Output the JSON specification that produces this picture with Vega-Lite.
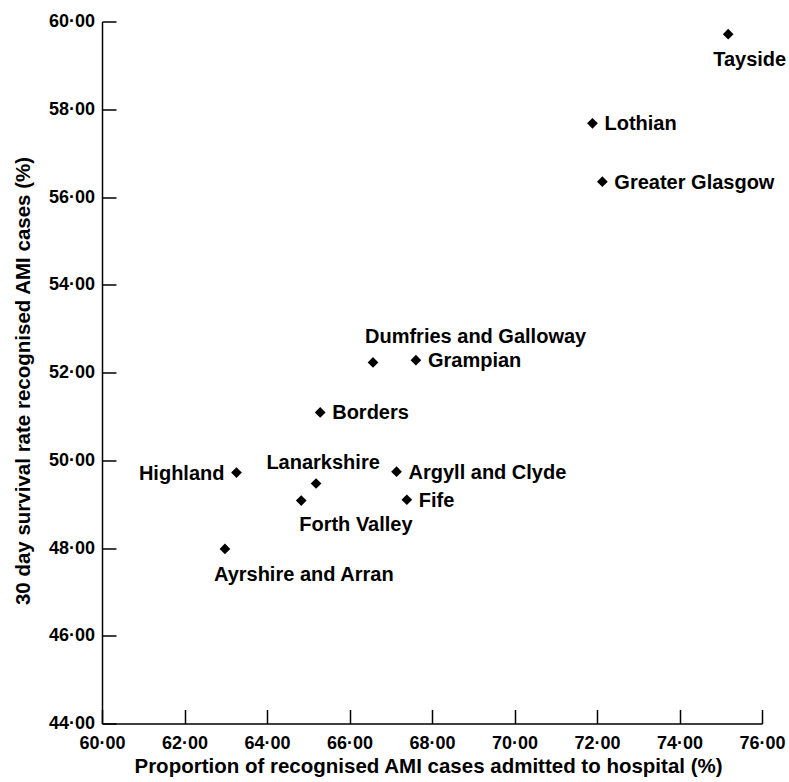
{
  "$schema": "https://vega.github.io/schema/vega-lite/v6.json",
  "autosize": {"type": "none"},
  "width": 660,
  "height": 702,
  "padding": {"left": 102, "top": 21.5, "right": 27, "bottom": 58.5},
  "background": "white",
  "config": {
    "view": {"stroke": null},
    "font": "Liberation Sans",
    "axis": {
      "domainColor": "black",
      "domainWidth": 1.5,
      "tickColor": "black",
      "tickWidth": 1.5,
      "tickSize": -14,
      "grid": false,
      "labelFont": "Liberation Sans",
      "labelFontWeight": "bold",
      "labelFontSize": 18,
      "labelColor": "black",
      "labelFlush": false,
      "labelOverlap": false,
      "titleFont": "Liberation Sans",
      "titleFontWeight": "bold",
      "titleFontSize": 20.5,
      "titleColor": "black"
    }
  },
  "data": {
    "values": [
      {"region": "Tayside", "admitted": 75.18, "survival": 59.71},
      {"region": "Lothian", "admitted": 71.89, "survival": 57.68},
      {"region": "Greater Glasgow", "admitted": 72.13, "survival": 56.35},
      {"region": "Dumfries and Galloway", "admitted": 66.57, "survival": 52.23},
      {"region": "Grampian", "admitted": 67.61, "survival": 52.28},
      {"region": "Borders", "admitted": 65.29, "survival": 51.09},
      {"region": "Highland", "admitted": 63.26, "survival": 49.72},
      {"region": "Lanarkshire", "admitted": 65.19, "survival": 49.47},
      {"region": "Forth Valley", "admitted": 64.83, "survival": 49.08},
      {"region": "Argyll and Clyde", "admitted": 67.14, "survival": 49.74},
      {"region": "Fife", "admitted": 67.39, "survival": 49.10},
      {"region": "Ayrshire and Arran", "admitted": 62.98, "survival": 47.98}
    ]
  },
  "encoding": {
    "x": {
      "field": "admitted", "type": "quantitative",
      "scale": {"domain": [60, 76], "nice": false, "zero": false},
      "axis": {
        "title": "Proportion of recognised AMI cases admitted to hospital (%)",
        "values": [60, 62, 64, 66, 68, 70, 72, 74, 76],
        "labelExpr": "replace(format(datum.value, '.2f'), '.', '·')",
        "labelPadding": 25,
        "titleY": 49,
        "titleX": 326,
        "titleBaseline": "alphabetic"
      }
    },
    "y": {
      "field": "survival", "type": "quantitative",
      "scale": {"domain": [44, 60], "nice": false, "zero": false},
      "axis": {
        "title": "30 day survival rate recognised AMI cases (%)",
        "values": [44, 46, 48, 50, 52, 54, 56, 58, 60],
        "labelExpr": "replace(format(datum.value, '.2f'), '.', '·')",
        "labelPadding": 21.5,
        "titleX": -79,
        "titleY": 359,
        "titleBaseline": "middle"
      }
    }
  },
  "layer": [
    {"mark": {"type": "point", "shape": "diamond", "filled": true, "color": "black", "opacity": 1, "size": 115}},
    {
      "transform": [{"filter": {"field": "region", "oneOf": ["Lothian", "Greater Glasgow", "Grampian", "Borders", "Argyll and Clyde", "Fife"]}}],
      "mark": {"type": "text", "align": "left", "baseline": "middle", "dx": 12, "dy": 1, "fontSize": 20, "fontWeight": "bold", "color": "black"},
      "encoding": {"text": {"field": "region"}}
    },
    {
      "transform": [{"filter": {"field": "region", "equal": "Highland"}}],
      "mark": {"type": "text", "align": "right", "baseline": "middle", "dx": -12, "dy": 1, "fontSize": 20, "fontWeight": "bold", "color": "black"},
      "encoding": {"text": {"field": "region"}}
    },
    {
      "transform": [{"filter": {"field": "region", "equal": "Tayside"}}],
      "mark": {"type": "text", "align": "left", "baseline": "middle", "dx": -15, "dy": 26, "fontSize": 20, "fontWeight": "bold", "color": "black"},
      "encoding": {"text": {"field": "region"}}
    },
    {
      "transform": [{"filter": {"field": "region", "equal": "Dumfries and Galloway"}}],
      "mark": {"type": "text", "align": "left", "baseline": "middle", "dx": -8, "dy": -25, "fontSize": 20, "fontWeight": "bold", "color": "black"},
      "encoding": {"text": {"field": "region"}}
    },
    {
      "transform": [{"filter": {"field": "region", "equal": "Lanarkshire"}}],
      "mark": {"type": "text", "align": "center", "baseline": "middle", "dx": 7, "dy": -21, "fontSize": 20, "fontWeight": "bold", "color": "black"},
      "encoding": {"text": {"field": "region"}}
    },
    {
      "transform": [{"filter": {"field": "region", "equal": "Forth Valley"}}],
      "mark": {"type": "text", "align": "left", "baseline": "middle", "dx": -2, "dy": 24, "fontSize": 20, "fontWeight": "bold", "color": "black"},
      "encoding": {"text": {"field": "region"}}
    },
    {
      "transform": [{"filter": {"field": "region", "equal": "Ayrshire and Arran"}}],
      "mark": {"type": "text", "align": "left", "baseline": "middle", "dx": -11, "dy": 26, "fontSize": 20, "fontWeight": "bold", "color": "black"},
      "encoding": {"text": {"field": "region"}}
    }
  ]
}
